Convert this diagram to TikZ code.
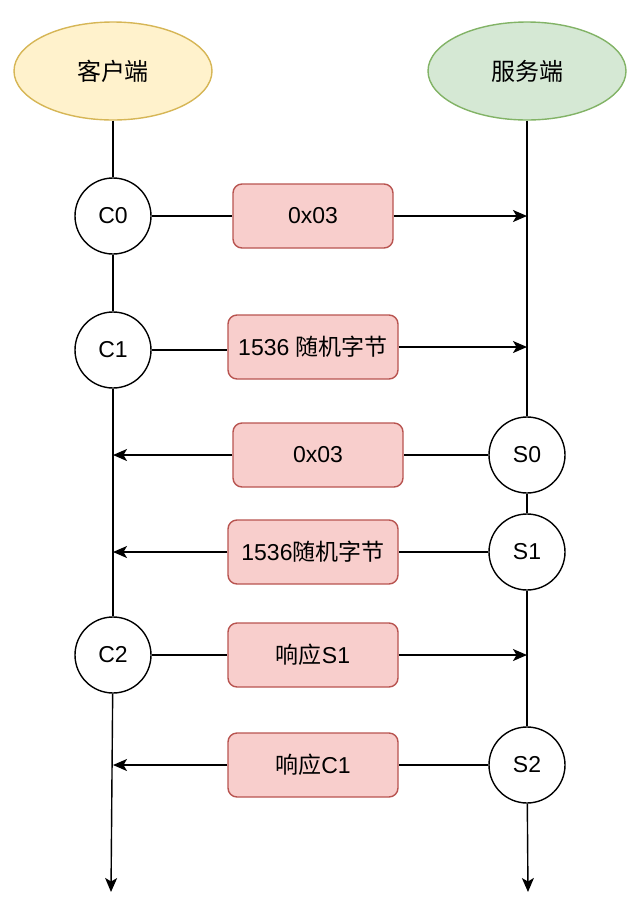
\documentclass[tikz,border=0pt]{standalone}
\usepackage{fontspec}
\setmainfont{Liberation Sans}
\newfontfamily\cjk{Noto Sans CJK SC}
\usetikzlibrary{arrows.meta,shapes.geometric}
\definecolor{clientfill}{HTML}{FFF2CC}
\definecolor{clientline}{HTML}{D6B656}
\definecolor{serverfill}{HTML}{D5E8D4}
\definecolor{serverline}{HTML}{82B366}
\definecolor{msgfill}{HTML}{F8CECC}
\definecolor{msgline}{HTML}{B85450}
\begin{document}
\begin{tikzpicture}[x=1pt,y=-1pt,
  every node/.style={font=\fontsize{23}{27}\selectfont},
  wire/.style={line width=1.4pt, draw=black},
  arr/.style={wire, -{Stealth[length=14pt,width=12pt,inset=3.5pt]}},
  party/.style={ellipse, minimum width=198pt, minimum height=98pt, line width=1.4pt, inner sep=0pt},
  stnode/.style={circle, draw=black, fill=white, line width=1.4pt, minimum size=76pt, inner sep=0pt},
  msg/.style={rectangle, rounded corners=9pt, draw=msgline, fill=msgfill, line width=1.4pt,
              minimum height=64pt, minimum width=170pt, inner sep=0pt}
]
\useasboundingbox (0,0) rectangle (634,914);

% the two parties
\node[party, draw=clientline, fill=clientfill] (client) at (113,71) {\cjk\fontsize{24}{28}\selectfont 客户端};
\node[party, draw=serverline, fill=serverfill] (server) at (527,71) {\cjk\fontsize{24}{28}\selectfont 服务端};

% handshake states
\node[stnode] (c0) at (113,216) {C0};
\node[stnode] (c1) at (113,350) {C1};
\node[stnode] (c2) at (113,655) {C2};
\node[stnode] (s0) at (527,455) {S0};
\node[stnode] (s1) at (527,552) {S1};
\node[stnode] (s2) at (527,765) {S2};

% lifeline ends
\coordinate (cend) at (111,892);
\coordinate (send) at (528,892);

% lifelines
\draw[wire] (client) -- (c0);
\draw[wire] (c0) -- (c1);
\draw[wire] (c1) -- (c2);
\draw[arr] (c2) -- (cend);
\draw[wire] (server) -- (s0);
\draw[wire] (s0) -- (s1);
\draw[wire] (s1) -- (s2);
\draw[arr] (s2) -- (send);

% messages
\node[msg, minimum width=160pt] (m1) at (313,216) {0x03};
\node[msg] (m2) at (313,347) {1536 {\cjk 随机字节}};
\node[msg] (m3) at (318,455) {0x03};
\node[msg] (m4) at (313,552) {1536{\cjk 随机字节}};
\node[msg] (m5) at (313,655) {{\cjk 响应}S1};
\node[msg] (m6) at (313,765) {{\cjk 响应}C1};

\draw[wire] (c0) -- (m1);
\draw[arr] (m1) -- (m1.east -| s0);
\draw[wire] (c1) -- (m2.west |- c1);
\draw[arr] (m2) -- (m2.east -| s0);
\draw[wire] (s0) -- (m3);
\draw[arr] (m3) -- (m3.west -| c1);
\draw[wire] (s1) -- (m4);
\draw[arr] (m4) -- (m4.west -| c1);
\draw[wire] (c2) -- (m5);
\draw[arr] (m5) -- (m5.east -| s1);
\draw[wire] (s2) -- (m6);
\draw[arr] (m6) -- (m6.west -| c2);
\end{tikzpicture}
\end{document}
